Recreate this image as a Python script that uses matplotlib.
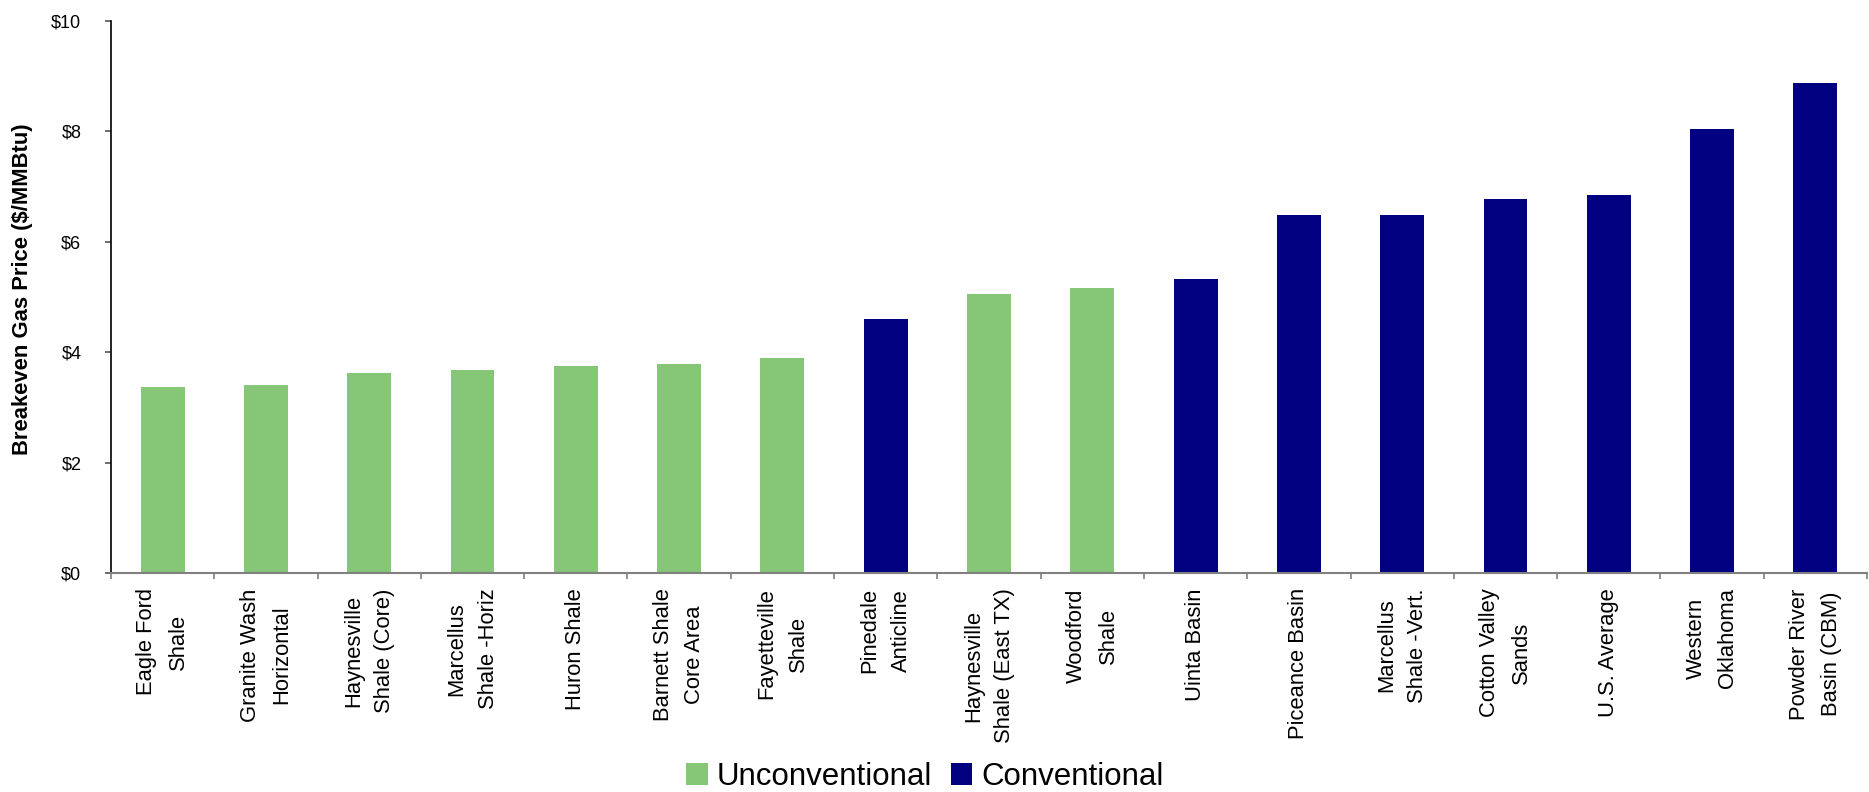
import numpy as np
import matplotlib
matplotlib.use("Agg")
import matplotlib.pyplot as plt
from matplotlib.ticker import FixedLocator, FuncFormatter

plt.rcParams['font.family'] = ['Liberation Sans', 'DejaVu Sans']

# Breakeven gas price by play ($/MMBtu)
plays = [
    "Eagle Ford\nShale", "Granite Wash\nHorizontal", "Haynesville\nShale (Core)",
    "Marcellus\nShale -Horiz", "Huron Shale", "Barnett Shale\nCore Area",
    "Fayetteville\nShale", "Pinedale\nAnticline", "Haynesville\nShale (East TX)",
    "Woodford\nShale", "Uinta Basin", "Piceance Basin", "Marcellus\nShale -Vert.",
    "Cotton Valley\nSands", "U.S. Average", "Western\nOklahoma",
    "Powder River\nBasin (CBM)",
]
prices = [3.37, 3.40, 3.62, 3.67, 3.75, 3.78, 3.89, 4.60, 5.05, 5.16,
          5.32, 6.48, 6.48, 6.78, 6.85, 8.04, 8.87]
play_type = ["U", "U", "U", "U", "U", "U", "U", "C", "U", "U",
             "C", "C", "C", "C", "C", "C", "C"]
type_names = {"U": "Unconventional", "C": "Conventional"}
type_colors = {"U": "#85C777", "C": "#000080"}

W, H = 1869, 792
fig = plt.figure(figsize=(W / 100, H / 100), dpi=100)
ax = fig.add_axes([111 / W, 1 - 573 / H, (1867 - 111) / W, (573 - 20.7) / H])

x = np.arange(len(plays))
vals = np.array(prices)
kinds = np.array(play_type)
for k in ["U", "C"]:
    m = kinds == k
    ax.bar(x[m], vals[m], width=0.425, color=type_colors[k],
           label=type_names[k], zorder=2)

ax.set_xlim(-0.5, len(plays) - 0.5)
ax.set_ylim(0, 10)

# y axis
ax.set_yticks(np.arange(0, 11, 2))
ax.yaxis.set_major_formatter(FuncFormatter(lambda v, p: f"${v:.0f}"))
ax.tick_params(axis='y', direction='out', length=4.3, width=1.2,
               color='#555555', labelsize=13, pad=17)

# x axis: labels at bar centres, tick marks on category boundaries
ax.set_xticks(x)
ax.set_xticklabels(plays, rotation=90, ha='center', va='top',
                   fontsize=15.8, linespacing=1.65)
ax.tick_params(axis='x', which='major', length=0, pad=11)
ax.xaxis.set_minor_locator(FixedLocator(np.arange(-0.5, len(plays), 1.0)))
ax.tick_params(axis='x', which='minor', direction='out', length=4,
               width=1.2, color='#808080')

for s in ['top', 'right']:
    ax.spines[s].set_visible(False)
ax.spines['left'].set_color('black')
ax.spines['left'].set_linewidth(1.2)
ax.spines['bottom'].set_color('#808080')
ax.spines['bottom'].set_linewidth(1.5)
ax.spines['bottom'].set_zorder(3)

fig.text(23 / W, 1 - 289 / H, "Breakeven Gas Price ($/MMBtu)", rotation=90,
         ha='center', va='center', fontsize=15.8, fontweight='bold')

fig.legend(loc='lower center', bbox_to_anchor=(0.495, 0.0), ncol=2,
           frameon=False, fontsize=22.5, handlelength=0.68,
           handleheight=0.68, handletextpad=0.3, columnspacing=0.6,
           borderpad=0, borderaxespad=0)

fig.savefig("out.png", dpi=100)
